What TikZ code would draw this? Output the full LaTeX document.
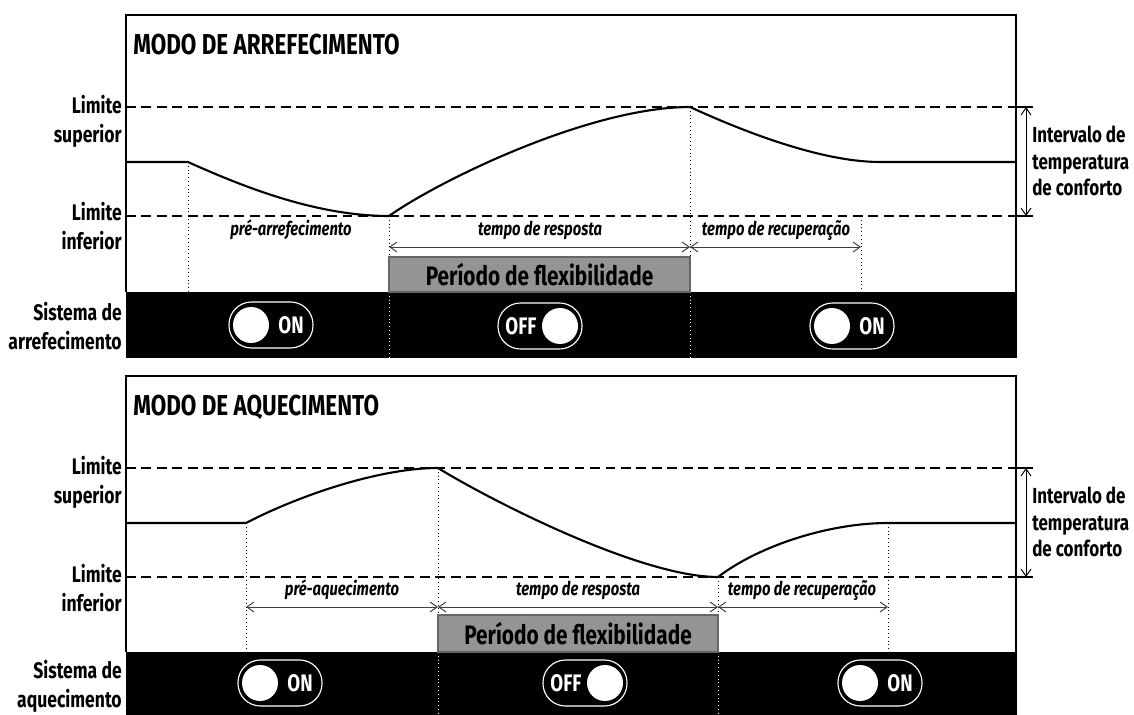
\documentclass[tikz,border=0pt]{standalone}
\usepackage{fontspec}
\setmainfont{Fira Sans}[FakeStretch=0.78]
\usetikzlibrary{arrows.meta}

\tikzset{
  swon/.pic={
    \draw[white,line width=0.8pt,fill=black,rounded corners=16pt] (-42,-23) rectangle (42,23);
    \fill[white] (-20,0) circle (18);
    \node[swtxt] (-txt) at (20,0) {ON};
  },
  swoff/.pic={
    \draw[white,line width=0.8pt,fill=black,rounded corners=16pt] (-42,-23) rectangle (42,23);
    \fill[white] (20,0) circle (18);
    \node[swtxt] (-txt) at (-19,0) {OFF};
  }
}

\begin{document}
\begin{tikzpicture}[x=0.025cm,y=-0.025cm,
  lim/.style={font=\bfseries\fontsize{16}{20.6}\selectfont,align=right,anchor=east,inner sep=0pt},
  side/.style={font=\bfseries\fontsize{15.5}{18.8}\selectfont,align=left,anchor=west,inner sep=0pt},
  ttl/.style={font=\bfseries\fontsize{20.5}{24}\selectfont,anchor=west,inner sep=0pt},
  per/.style={font=\bfseries\itshape\fontsize{13.5}{16}\selectfont,inner sep=0pt},
  swtxt/.style={white,font=\bfseries\fontsize{17}{19}\selectfont,inner sep=0pt},
  flex/.style={fill=black!42,draw=black!60,line width=0.8pt,minimum height=0.875cm,
    font=\bfseries\fontsize{19}{22}\selectfont,inner sep=0pt},
  lvl/.style={line width=1.5pt,dash pattern=on 7pt off 4pt},
  curve/.style={line width=1.5pt},
  guide/.style={dotted,line width=0.7pt},
  span/.style={{Straight Barb[length=5pt,width=7pt]}-{Straight Barb[length=5pt,width=7pt]},black!75,line width=0.7pt}]

\useasboundingbox (0,0) rectangle (1134,715);

% ---------- modo de arrefecimento
\fill[black] (126,292) rectangle (1016,358);
\draw[line width=1.5pt] (126,292) -- (126,15) -- (1016,15) -- (1016,358);
\node[ttl] (ttlA) at (133,45) {MODO DE ARREFECIMENTO};

\coordinate (a0) at (126,162);
\coordinate (a1) at (188,162);
\coordinate (a2) at (389,216);
\coordinate (a3) at (690,107);
\coordinate (a4) at (880,162);
\coordinate (a5) at (1016,162);

\draw[lvl] (126,107) -- (1016,107);
\draw[lvl] (126,216) -- (1016,216);
\draw[line width=0.8pt] (1016,107) -- (1033,107) (1016,216) -- (1033,216);
\draw[span,black] (1026,107) -- (1026,216);

\draw[guide] (188,162) -- (188,292);
\draw[guide] (389,216) -- (389,257);
\draw[guide] (690,107) -- (690,257);
\draw[guide] (861,216) -- (861,292);
\draw[guide,white] (389,292) -- (389,358);
\draw[guide,white] (690,292) -- (690,358);

\draw[curve] (a0) -- (a1) .. controls (250,190) and (320,216) .. (a2)
  .. controls (440,180) and (590,107) .. (a3)
  .. controls (740,130) and (820,162) .. (a4) -- (a5);

\node[flex,minimum width=7.525cm] (flexA) at (539.5,274.5) {Período de flexibilidade};
\draw[span] (389,247) -- (690,247);
\draw[span] (690,247) -- (861,247);
\node[per] (preA) at (291,230) {pré-arrefecimento};
\node[per] (respA) at (540,230) {tempo de resposta};
\node[per] (recA) at (776,230) {tempo de recuperação};

\node[lim] (supA) at (122,121) {Limite\\superior};
\node[lim] (infA) at (122,226) {Limite\\inferior};
\node[lim] (sisA) at (122,326) {Sistema de\\arrefecimento};
\node[side] (confA) at (1032,161) {Intervalo de\\temperatura\\de conforto};

\pic (swA1) at (271,325) {swon};
\pic (swA2) at (540,326) {swoff};
\pic (swA3) at (852,326) {swon};

% ---------- modo de aquecimento
\fill[black] (126,652) rectangle (1016,715);
\draw[line width=1.5pt] (126,652) -- (126,376) -- (1016,376) -- (1016,715);
\node[ttl] (ttlH) at (133,407) {MODO DE AQUECIMENTO};

\coordinate (h0) at (126,523);
\coordinate (h1) at (246,523);
\coordinate (h2) at (438,468);
\coordinate (h3) at (718,577);
\coordinate (h4) at (888,523);
\coordinate (h5) at (1016,523);

\draw[lvl] (126,468) -- (1016,468);
\draw[lvl] (126,577) -- (1016,577);
\draw[line width=0.8pt] (1016,468) -- (1033,468) (1016,577) -- (1033,577);
\draw[span,black] (1026,468) -- (1026,577);

\draw[guide] (246,523) -- (246,652);
\draw[guide] (438,468) -- (438,615);
\draw[guide] (718,577) -- (718,615);
\draw[guide] (888,523) -- (888,652);
\draw[guide,white] (438,652) -- (438,715);
\draw[guide,white] (718,652) -- (718,715);

\draw[curve] (h0) -- (h1) .. controls (300,495) and (380,468) .. (h2)
  .. controls (490,500) and (640,577) .. (h3)
  .. controls (760,545) and (830,523) .. (h4) -- (h5);

\node[flex,minimum width=7cm,minimum height=0.925cm] (flexH) at (578,633.5) {Período de flexibilidade};
\draw[span] (246,607) -- (438,607);
\draw[span] (438,607) -- (718,607);
\draw[span] (718,607) -- (888,607);
\node[per] (preH) at (342,590) {pré-aquecimento};
\node[per] (respH) at (578,590) {tempo de resposta};
\node[per] (recH) at (802,590) {tempo de recuperação};

\node[lim] (supH) at (122,482) {Limite\\superior};
\node[lim] (infH) at (122,588) {Limite\\inferior};
\node[lim] (sisH) at (122,686) {Sistema de\\aquecimento};
\node[side] (confH) at (1032,522) {Intervalo de\\temperatura\\de conforto};

\pic (swH1) at (280,683) {swon};
\pic (swH2) at (585,683) {swoff};
\pic (swH3) at (880,683) {swon};
\end{tikzpicture}
\end{document}
